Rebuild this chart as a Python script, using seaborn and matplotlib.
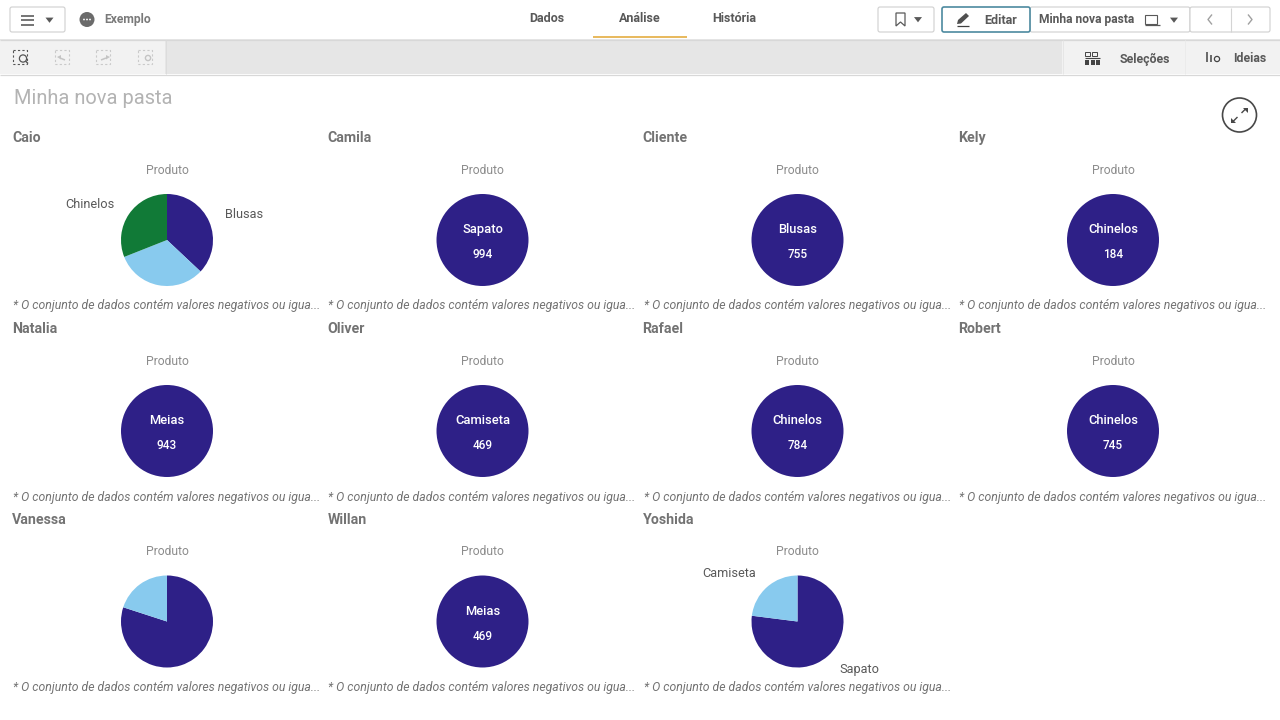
import matplotlib
matplotlib.use("Agg")
import matplotlib.pyplot as plt
from matplotlib.patches import FancyBboxPatch, Rectangle, Circle, Polygon
import seaborn as sns

sns.set_theme(style="white")
FONT = "Roboto"
plt.rcParams["font.family"] = [FONT, "DejaVu Sans"]

# ---------- data ----------
panel_names = ["Caio", "Camila", "Cliente", "Kely", "Natalia", "Oliver",
               "Rafael", "Robert", "Vanessa", "Willan", "Yoshida"]
caio_labels = ["Blusas", "", "Chinelos"]
caio_values = [37, 32, 31]
camila_labels = ["Sapato"]
camila_values = [994]
cliente_labels = ["Blusas"]
cliente_values = [755]
kely_labels = ["Chinelos"]
kely_values = [184]
natalia_labels = ["Meias"]
natalia_values = [943]
oliver_labels = ["Camiseta"]
oliver_values = [469]
rafael_labels = ["Chinelos"]
rafael_values = [784]
robert_labels = ["Chinelos"]
robert_values = [745]
vanessa_labels = ["", ""]
vanessa_values = [80, 20]
willan_labels = ["Meias"]
willan_values = [469]
yoshida_labels = ["Sapato", "Camiseta"]
yoshida_values = [77, 23]

panel_labels = [caio_labels, camila_labels, cliente_labels, kely_labels,
                natalia_labels, oliver_labels, rafael_labels, robert_labels,
                vanessa_labels, willan_labels, yoshida_labels]
panel_values = [caio_values, camila_values, cliente_values, kely_values,
                natalia_values, oliver_values, rafael_values, robert_values,
                vanessa_values, willan_values, yoshida_values]

palette = sns.color_palette(["#2e2087", "#88caee", "#117a37"])
NOTE = "* O conjunto de dados contém valores negativos ou igua..."

W, H = 1280, 720
fig = plt.figure(figsize=(W / 100, H / 100), dpi=100, facecolor="white")

# ---------- app chrome in pixel coordinates ----------
bg = fig.add_axes([0, 0, 1, 1])
bg.set_xlim(0, W)
bg.set_ylim(H, 0)
bg.axis("off")


def rect(x, y, w, h, fc, ec="none", lw=0.0, z=1):
    bg.add_patch(Rectangle((x, y), w, h, fc=fc, ec=ec, lw=lw, zorder=z))


def button(x, y, w, h, ec="#cfcfcf", lw=0.8):
    bg.add_patch(FancyBboxPatch((x + 2, y + 2), w - 4, h - 4,
                                boxstyle="round,pad=2,rounding_size=2",
                                fc="white", ec=ec, lw=lw, zorder=2))


def tri(cx, cy, s=4, color="#595959"):
    bg.add_patch(Polygon([(cx - s, cy - s * 0.6), (cx + s, cy - s * 0.6), (cx, cy + s * 0.7)],
                         fc=color, ec="none", zorder=4))


def label(x, y, s, size=8.2, color="#595959", weight="bold", ha="left", style="normal"):
    bg.text(x, y + 4, s, fontsize=size, color=color, fontweight=weight, ha=ha, va="baseline",
            fontstyle=style, zorder=5)


def line(xs, ys, color="#595959", lw=1.2, ls="-"):
    bg.plot(xs, ys, color=color, lw=lw, ls=ls, zorder=4, solid_capstyle="butt")


# toolbar band
rect(0, 39, W, 35, "#e6e6e6")
rect(0, 40, 165, 34, "#f2f2f2")
rect(1062, 40, 218, 34, "#f2f2f2")
line([0, W], [39.5, 39.5], "#d8d8d8", 0.9)
line([0, W], [74.5, 74.5], "#d8d8d8", 0.9)
line([165.5, 165.5], [40, 74], "#dcdcdc", 0.7)
line([1062.5, 1062.5], [40, 74], "#e6e6e6", 0.7)
line([1184.5, 1184.5], [40, 74], "#ebebeb", 0.7)

# top left
button(10, 7, 55, 25)
for y in (15.5, 20, 24.5):
    line([21, 34], [y, y], "#505050", 1.1)
tri(49.5, 20, 4)
bg.add_patch(Circle((87, 19.5), 7.5, fc="#6b6b6b", ec="none", zorder=3))
for dx in (-3, 0, 3):
    bg.add_patch(Circle((87 + dx, 19.5), 0.9, fc="white", ec="none", zorder=4))
label(104, 19.5, "Exemplo", 8.7, "#7a7a7a")

# tabs
label(547, 18.5, "Dados", 9, "#595959", ha="center")
label(640, 18.5, "Análise", 9, "#595959", ha="center")
label(734, 18.5, "História", 9, "#595959", ha="center")
line([593, 686.5], [36.5, 36.5], "#e8b95c", 1.4)

# top right
button(878, 7, 56, 25)
bg.add_patch(Polygon([(896, 13), (905, 13), (905, 26), (900.5, 22), (896, 26)], closed=True,
                     fc="white", ec="#595959", lw=0.9, zorder=4))
tri(918, 19.5, 4)
button(1030, 7, 160, 25)
button(1190, 7, 80, 25)
line([1230.5, 1230.5], [8, 32], "#d4d4d4", 0.8)
button(942, 7, 88, 25, "#4d8aa0", 1.2)
line([957, 969], [25.5, 25.5], "#404040", 0.9)
bg.add_patch(Polygon([(957, 24), (958, 20), (966, 13), (969, 16), (961, 23.5)],
                     fc="#505050", ec="none", zorder=4))
label(984, 19.5, "Editar", 9, "#595959")
label(1039, 19.5, "Minha nova pasta", 8.65, "#595959")
bg.add_patch(Rectangle((1145, 15), 12, 9, fc="none", ec="#595959", lw=0.8, zorder=4))
line([1145, 1160], [24.5, 24.5], "#595959", 0.9)
tri(1174, 20, 4)
line([1212, 1208, 1212], [14.5, 19.5, 24.5], "#a0a0a0", 1.0)
line([1248, 1252, 1248], [14.5, 19.5, 24.5], "#a0a0a0", 1.0)

# selection tools
for x, c in ((20, "#555555"), (62, "#cacaca"), (103, "#cacaca"), (145, "#cacaca")):
    bg.add_patch(Rectangle((x - 7, 50), 14, 14, fc="none", ec=c, lw=0.8, ls=(0, (2, 2)), zorder=4))
bg.add_patch(Circle((23, 58.5), 3.6, fc="#f2f2f2", ec="#555555", lw=0.9, zorder=5))
line([25.5, 28], [61, 63.5], "#555555", 1)
line([60, 65], [58, 60], "#c4c4c4", 1.1)
bg.add_patch(Polygon([(57, 57), (61, 55), (61, 59.5)], fc="#c4c4c4", ec="none", zorder=4))
line([101, 106], [60, 58], "#c4c4c4", 1.1)
bg.add_patch(Polygon([(110, 57), (106, 55), (106, 59.5)], fc="#c4c4c4", ec="none", zorder=4))
bg.add_patch(Circle((148, 58), 2.6, fc="#f2f2f2", ec="#c4c4c4", lw=1, zorder=5))

# selections / insights
for x in (1085, 1092):
    bg.add_patch(Rectangle((x, 52), 5, 4, fc="none", ec="#444444", lw=0.7, zorder=4))
line([1085, 1100], [58, 58], "#444444", 0.8)
for x in (1085, 1090.5, 1096):
    rect(x, 60, 4, 5, "#444444", z=4)
label(1120, 58.5, "Seleções", 8.9, "#595959")
line([1207, 1207], [52, 62], "#444444", 1.1)
line([1210.5, 1210.5], [55, 62], "#444444", 1.1)
bg.add_patch(Circle((1217, 59), 2.6, fc="#f2f2f2", ec="#444444", lw=0.9, zorder=4))
label(1233, 57.5, "Ideias", 8.9, "#595959")

# sheet title and expand button
label(14, 100, "Minha nova pasta", 14.4, "#b3b3b3", "normal")
bg.add_patch(Circle((1239.5, 115), 17, fc="white", ec="#484848", lw=1.2, zorder=3))
line([1241.5, 1246], [113, 108.5], "#484848", 1.0)
line([1237.5, 1233], [117, 121.5], "#484848", 1.0)
bg.add_patch(Polygon([(1243, 107.5), (1248, 107.5), (1248, 112.5)], fc="#484848", ec="none", zorder=4))
bg.add_patch(Polygon([(1231, 117.5), (1231, 122.5), (1236, 122.5)], fc="#484848", ec="none", zorder=4))

# ---------- panels ----------
col_x = [167, 482.5, 797.5, 1113]
row_y = [240, 431, 621.5]
R = 46
for i, name in enumerate(panel_names):
    cx = col_x[i % 4]
    cy = row_y[i // 4]
    left = cx - 155
    label(left, cy - 101.8, name, 10.2, "#737373")
    label(cx, cy - 70.3, "Produto", 8.7, "#8c8c8c", "normal", ha="center")
    label(left + 1, cy + 65.5, NOTE, 8.85, "#737373", "normal", style="italic")

    ax = fig.add_axes([(cx - R) / W, 1 - (cy + R) / H, 2 * R / W, 2 * R / H])
    vals = panel_values[i]
    labs = panel_labels[i]
    single = len(vals) == 1
    ax.pie(vals, labels=None if single else labs, colors=palette[:len(vals)],
           startangle=90, counterclock=False, radius=1, labeldistance=1.38,
           textprops={"fontsize": 9.2, "color": "#595959"},
           wedgeprops={"linewidth": 0, "clip_on": False})
    ax.set_xlim(-1, 1)
    ax.set_ylim(-1, 1)
    ax.patch.set_alpha(0)
    if single:
        ax.text(0, 0.15, labs[0], color="white", fontsize=9.3, fontweight=500,
                ha="center", va="baseline")
        ax.text(0, -0.40, str(vals[0]), color="white", fontsize=8.5, fontweight=500,
                ha="center", va="baseline")

fig.savefig("out.png", dpi=100, facecolor="white")
